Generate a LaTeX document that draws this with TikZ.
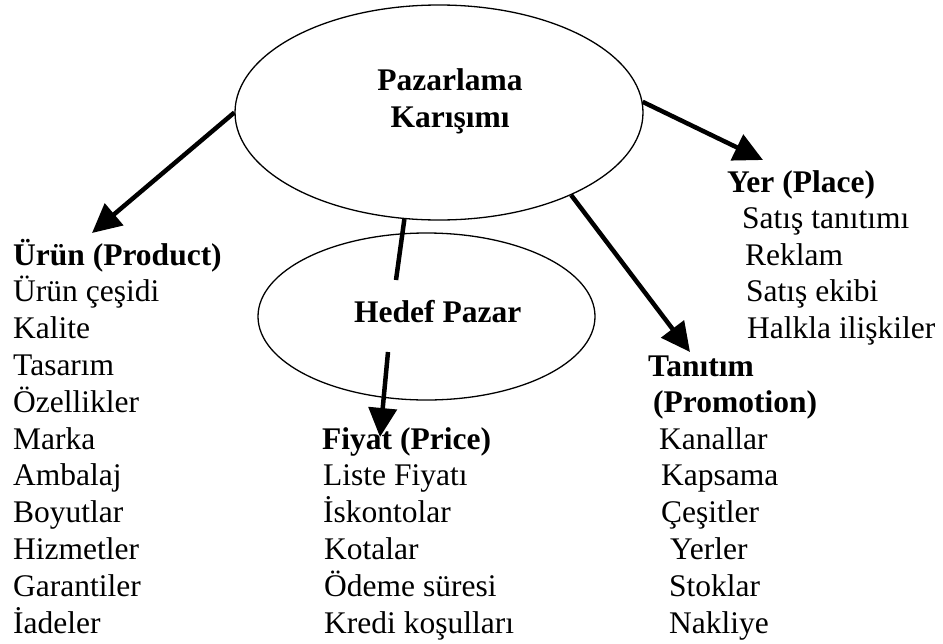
\documentclass[tikz,border=0pt]{standalone}
\usepackage{fontspec}
\setmainfont{Liberation Serif}
\usetikzlibrary{shapes.geometric,arrows.meta}
\begin{document}
\begin{tikzpicture}[x=1pt,y=-1pt,
  txt/.style={anchor=base west,inner sep=0pt,font=\fontsize{31.5pt}{36.8pt}\selectfont},
  hd/.style={txt,font=\fontsize{31.5pt}{36.8pt}\selectfont\bfseries},
  ctr/.style={hd,anchor=base},
  oval/.style={ellipse,draw,line width=1.3pt,inner sep=0pt},
  conn/.style={line width=4.5pt},
  arr/.style={conn,-{Triangle[length=29pt,width=28pt]}}]
\useasboundingbox (0,0) rectangle (943,643);
% ellipses
\node[oval,minimum width=408pt,minimum height=215pt] (pm) at (439,112.5) {};
\node[oval,minimum width=337pt,minimum height=167pt] (hp) at (426.5,316.5) {};
\node[ctr] (pmA) at (450,90) {Pazarlama};
\node[ctr] (pmB) at (450,127) {Karışımı};
\node[hd] (hpT) at (354,322) {Hedef Pazar};
% left column
\node[hd]  (u0)  at (13,265)   {Ürün (Product)};
\node[txt] (u1)  at (13,301.8) {Ürün çeşidi};
\node[txt] (u2)  at (13,338.6) {Kalite};
\node[txt] (u3)  at (13,375.4) {Tasarım};
\node[txt] (u4)  at (13,412.2) {Özellikler};
\node[txt] (u5)  at (13,449)   {Marka};
\node[txt] (u6)  at (13,485.8) {Ambalaj};
\node[txt] (u7)  at (13,522.6) {Boyutlar};
\node[txt] (u8)  at (13,559.4) {Hizmetler};
\node[txt] (u9)  at (13,596.2) {Garantiler};
\node[txt] (u10) at (13,633)   {İadeler};
% price column
\node[hd]  (f0) at (322,449)   {Fiyat (Price)};
\node[txt] (f1) at (323,485.8) {Liste Fiyatı};
\node[txt] (f2) at (323,522.6) {İskontolar};
\node[txt] (f3) at (324,559.4) {Kotalar};
\node[txt] (f4) at (324,596.2) {Ödeme süresi};
\node[txt] (f5) at (324,633)   {Kredi koşulları};
% place column
\node[hd]  (y0) at (727,192)   {Yer (Place)};
\node[txt] (y1) at (742,228.5) {Satış tanıtımı};
\node[txt] (y2) at (745,265)   {Reklam};
\node[txt] (y3) at (746,301.8) {Satış ekibi};
\node[txt] (y4) at (747,338.6) {Halkla ilişkiler};
% promotion column
\node[hd]  (t0) at (648,376)   {Tanıtım};
\node[hd]  (t1) at (653,412.2) {(Promotion)};
\node[txt] (t2) at (659,449)   {Kanallar};
\node[txt] (t3) at (661,485.8) {Kapsama};
\node[txt] (t4) at (661,522.6) {Çeşitler};
\node[txt] (t5) at (670,559.4) {Yerler};
\node[txt] (t6) at (669,596.2) {Stoklar};
\node[txt] (t7) at (669,633)   {Nakliye};
% connectors
\coordinate (uTip) at (92,233);
\coordinate (yTip) at (763,160);
\coordinate (tTip) at (690,352);
\coordinate (hIn)  at (396,280);
\coordinate (hOut) at (388,352);
\coordinate (fTip) at (380,437);
\draw[arr]  (pm.west)   -- (uTip);
\draw[arr]  (pm.3.5)    -- (yTip);
\draw[arr]  (pm.-32.4)  -- (tTip);
\draw[conn] (pm.-108.5) -- (hIn);
\draw[arr]  (hOut) -- (fTip);
\end{tikzpicture}
\end{document}
